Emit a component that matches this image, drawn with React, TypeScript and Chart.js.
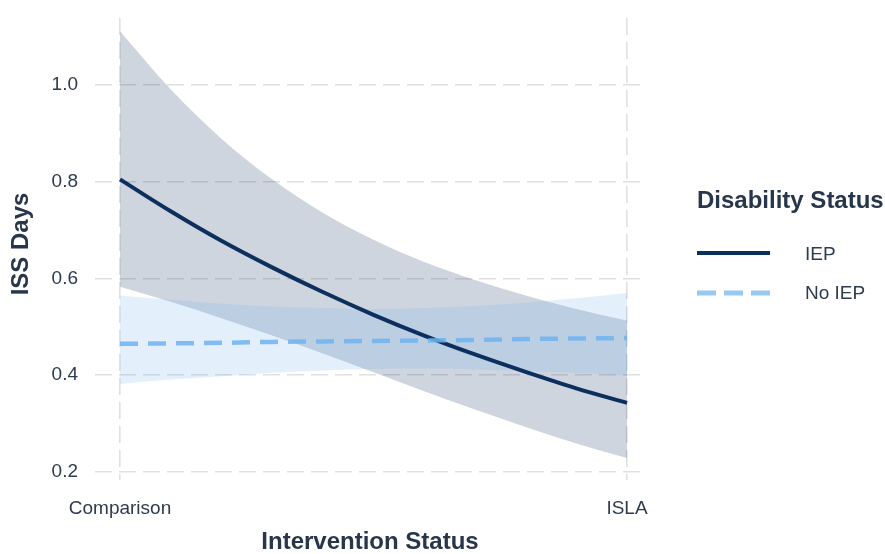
import React, { useEffect, useRef } from "react";
import { Chart, registerables } from "chart.js";

Chart.register(...registerables);

// Categories on the x axis (0 = Comparison, 1 = ISLA)
const categories = ["Comparison", "ISLA"];
const xPositions = [0, 0.1, 0.2, 0.3, 0.4, 0.5, 0.6, 0.7, 0.8, 0.9, 1.0];

// IEP series
const iepMean = [0.805, 0.739, 0.678, 0.623, 0.572, 0.525, 0.482, 0.443, 0.407, 0.373, 0.343];
const iepUpper = [1.111, 0.991, 0.889, 0.805, 0.736, 0.68, 0.634, 0.597, 0.565, 0.537, 0.513];
const iepLower = [0.583, 0.552, 0.518, 0.482, 0.445, 0.406, 0.367, 0.329, 0.293, 0.259, 0.229];

// No IEP series
const noIepMean = [0.465, 0.466, 0.467, 0.469, 0.47, 0.471, 0.472, 0.473, 0.475, 0.476, 0.477];
const noIepUpper = [0.565, 0.556, 0.548, 0.542, 0.539, 0.537, 0.539, 0.543, 0.55, 0.559, 0.57];
const noIepLower = [0.382, 0.391, 0.398, 0.405, 0.41, 0.413, 0.414, 0.412, 0.409, 0.405, 0.399];

const yTicks = [0.2, 0.4, 0.6, 0.8, 1.0];
const seriesNames = ["IEP", "No IEP"];
const legendTitle = "Disability Status";
const xTitle = "Intervention Status";
const yTitle = "ISS Days";

const FONT = "'Liberation Sans', Arial, Helvetica, sans-serif";
const TEXT = "#2d3b4d";
const TITLE = "#27364a";
const NAVY = "#0d2f5e";
const LIGHT = "rgba(112,180,242,0.85)";
const LIGHT_LEGEND = "#97c9f5";
const GRID = "#e0e0e0";

const pts = (ys: number[]) => ys.map((y, i) => ({ x: xPositions[i], y }));

const legendPlugin = {
  id: "customLegend",
  afterDraw(chart: any) {
    const ctx = chart.ctx;
    ctx.save();
    ctx.textBaseline = "middle";
    ctx.textAlign = "left";
    ctx.fillStyle = TITLE;
    ctx.font = `bold 24px ${FONT}`;
    ctx.fillText(legendTitle, 697, 201);

    ctx.lineCap = "butt";
    ctx.strokeStyle = NAVY;
    ctx.lineWidth = 4;
    ctx.beginPath();
    ctx.moveTo(697, 253);
    ctx.lineTo(770, 253);
    ctx.stroke();

    ctx.strokeStyle = LIGHT_LEGEND;
    ctx.lineWidth = 5;
    ctx.setLineDash([19, 8]);
    ctx.beginPath();
    ctx.moveTo(697, 293);
    ctx.lineTo(770, 293);
    ctx.stroke();
    ctx.setLineDash([]);

    ctx.fillStyle = TEXT;
    ctx.font = `19px ${FONT}`;
    ctx.fillText(seriesNames[0], 805, 255);
    ctx.fillText(seriesNames[1], 805, 294);

    // y-axis title
    ctx.save();
    ctx.translate(21, 244);
    ctx.rotate(-Math.PI / 2);
    ctx.textAlign = "center";
    ctx.textBaseline = "middle";
    ctx.fillStyle = TITLE;
    ctx.font = `bold 24px ${FONT}`;
    ctx.fillText(yTitle, 0, 0);
    ctx.restore();

    ctx.restore();
  },
};

const bandBase = {
  borderWidth: 0,
  borderColor: "rgba(0,0,0,0)",
  pointRadius: 0,
  cubicInterpolationMode: "monotone",
};

export default function App() {
  const ref = useRef<HTMLCanvasElement>(null);

  useEffect(() => {
    if (!ref.current) return;
    const chart = new Chart(ref.current, {
      type: "line",
      data: {
        datasets: [
          { ...bandBase, label: "No IEP upper", data: pts(noIepUpper), fill: "+1", backgroundColor: "rgba(100,170,240,0.18)" },
          { ...bandBase, label: "No IEP lower", data: pts(noIepLower), fill: false },
          { ...bandBase, label: "IEP upper", data: pts(iepUpper), fill: "+1", backgroundColor: "rgba(13,47,94,0.2)" },
          { ...bandBase, label: "IEP lower", data: pts(iepLower), fill: false },
          {
            label: seriesNames[1],
            data: pts(noIepMean),
            borderColor: LIGHT,
            borderWidth: 4.5,
            borderDash: [18, 10],
            borderCapStyle: "butt",
            pointRadius: 0,
            fill: false,
            cubicInterpolationMode: "monotone",
          },
          {
            label: seriesNames[0],
            data: pts(iepMean),
            borderColor: NAVY,
            borderWidth: 4,
            pointRadius: 0,
            fill: false,
            cubicInterpolationMode: "monotone",
          },
        ],
      },
      options: {
        responsive: false,
        animation: false,
        layout: { padding: { left: 0, right: 240, top: 18, bottom: 0 } },
        plugins: {
          legend: { display: false },
          tooltip: { enabled: false },
          filler: { drawTime: "beforeDatasetsDraw" },
        },
        scales: {
          x: {
            type: "linear",
            min: -0.0493,
            max: 1.0355,
            afterBuildTicks: (scale: any) => {
              scale.ticks = [{ value: 0 }, { value: 1 }];
            },
            afterFit: (scale: any) => {
              scale.height = 74;
              scale.paddingLeft = 0;
              scale.paddingRight = 0;
            },
            ticks: {
              autoSkip: false,
              maxRotation: 0,
              padding: 17,
              color: TEXT,
              font: { family: FONT, size: 19 },
              callback: (v: any) => (v === 0 ? categories[0] : v === 1 ? categories[1] : ""),
            },
            grid: { color: GRID, lineWidth: 1.6, drawTicks: false },
            border: { display: false, dash: [17, 7] },
            title: {
              display: true,
              text: xTitle,
              color: TITLE,
              font: { family: FONT, size: 24, weight: "bold" },
              padding: { top: 0, bottom: -3 },
            },
          },
          y: {
            type: "linear",
            min: 0.1835,
            max: 1.1385,
            afterBuildTicks: (scale: any) => {
              scale.ticks = yTicks.map((v) => ({ value: v }));
            },
            afterFit: (scale: any) => {
              scale.width = 95;
              scale.paddingTop = 0;
              scale.paddingBottom = 0;
            },
            ticks: {
              padding: 17,
              color: TEXT,
              font: { family: FONT, size: 19 },
              callback: (v: any) => Number(v).toFixed(1),
            },
            grid: { color: GRID, lineWidth: 1.6, drawTicks: false },
            border: { display: false, dash: [17, 7] },
            title: { display: false },
          },
        },
      },
      plugins: [legendPlugin],
    } as any);
    return () => chart.destroy();
  }, []);

  return (
    <div style={{ position: "fixed", left: 0, top: 0, width: 885, height: 554, background: "#fff" }}>
      <canvas ref={ref} width={885} height={554} style={{ width: 885, height: 554 }} />
    </div>
  );
}
